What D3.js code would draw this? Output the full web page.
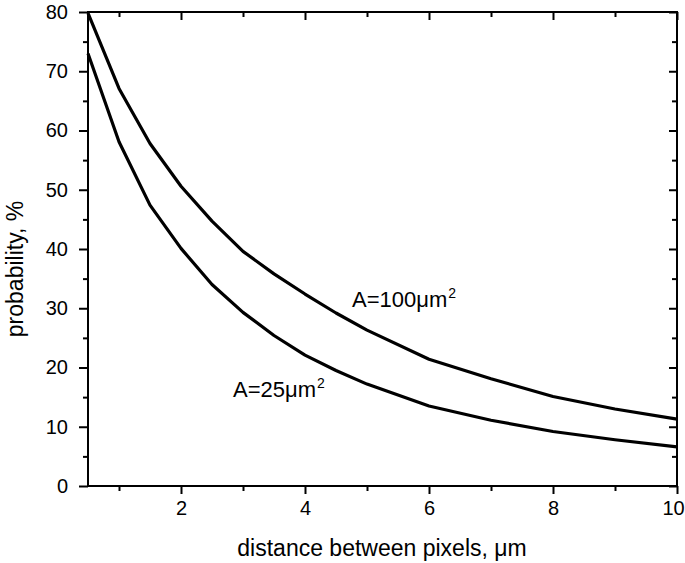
<!DOCTYPE html>
<html>
<head>
<meta charset="utf-8">
<script src="https://cdn.jsdelivr.net/npm/d3@7"></script>
<style>
  body { margin: 0; background: #fff; }
  text { font-family: "Liberation Sans", Arial, sans-serif; fill: #000; }
</style>
</head>
<body>
<div id="chart"></div>
<script>
// distance between pixels, um
var distance = [0.5, 1, 1.5, 2, 2.5, 3, 3.5, 4, 4.5, 5, 6, 7, 8, 9, 10];
// probability, % for A = 100 um^2
var probA100 = [79.8, 67.1, 57.8, 50.6, 44.7, 39.6, 35.8, 32.4, 29.2, 26.3, 21.4, 18.1, 15.1, 13.0, 11.3];
// probability, % for A = 25 um^2
var probA25 = [73.0, 58.1, 47.4, 40.1, 34.0, 29.3, 25.4, 22.1, 19.5, 17.2, 13.5, 11.1, 9.2, 7.8, 6.6];
var xTicks = [2, 4, 6, 8, 10];
var xMinor = [1, 3, 5, 7, 9];
var yTicks = [0, 10, 20, 30, 40, 50, 60, 70, 80];
var yMinor = [5, 15, 25, 35, 45, 55, 65, 75];

var W = 685, H = 563;
var margin = { left: 88, right: 8, top: 12, bottom: 77 };
var width = W - margin.left - margin.right;
var height = H - margin.top - margin.bottom;

var svg = d3.select("#chart").append("svg")
    .attr("width", W)
    .attr("height", H);

var g = svg.append("g")
    .attr("transform", "translate(" + margin.left + "," + margin.top + ")");

var x = d3.scaleLinear().domain([0.5, 10]).range([0, width]);
var y = d3.scaleLinear().domain([0, 80]).range([height, 0]);

function styleAxis(sel) {
  sel.select(".domain").remove();
  sel.selectAll(".tick line").attr("stroke", "#000").attr("stroke-width", 2);
  sel.selectAll("text").style("font-size", "20px");
}

// bottom axis (ticks outward)
var xAxis = g.append("g").attr("transform", "translate(0," + height + ")")
    .call(d3.axisBottom(x).tickValues(xTicks).tickSize(8).tickPadding(7).tickFormat(d3.format("d")));
styleAxis(xAxis);
xAxis.selectAll(".tick text").filter(function(d) { return d === 10; }).attr("dx", -4);
g.append("g").attr("transform", "translate(0," + height + ")")
    .call(d3.axisBottom(x).tickValues(xMinor).tickSize(5).tickFormat(""))
    .call(styleAxis);

// left axis (ticks outward)
var yAxis = g.append("g")
    .call(d3.axisLeft(y).tickValues(yTicks).tickSize(9).tickPadding(11).tickFormat(d3.format("d")));
styleAxis(yAxis);
g.append("g")
    .call(d3.axisLeft(y).tickValues(yMinor).tickSize(5).tickFormat(""))
    .call(styleAxis);

// top axis (ticks inward)
g.append("g")
    .call(d3.axisBottom(x).tickValues(xTicks).tickSize(8).tickFormat(""))
    .call(styleAxis);
g.append("g")
    .call(d3.axisBottom(x).tickValues(xMinor).tickSize(5).tickFormat(""))
    .call(styleAxis);

// right axis (ticks inward)
g.append("g").attr("transform", "translate(" + width + ",0)")
    .call(d3.axisLeft(y).tickValues(yTicks).tickSize(8).tickFormat(""))
    .call(styleAxis);
g.append("g").attr("transform", "translate(" + width + ",0)")
    .call(d3.axisLeft(y).tickValues(yMinor).tickSize(5).tickFormat(""))
    .call(styleAxis);

// frame
g.append("rect")
    .attr("x", 0).attr("y", 0)
    .attr("width", width).attr("height", height)
    .attr("fill", "none")
    .attr("stroke", "#000")
    .attr("stroke-width", 2);

var line = d3.line()
    .x(function(d) { return x(d[0]); })
    .y(function(d) { return y(d[1]); });

[probA100, probA25].forEach(function(arr) {
  g.append("path")
    .datum(d3.zip(distance, arr))
    .attr("d", line)
    .attr("fill", "none")
    .attr("stroke", "#000")
    .attr("stroke-width", 3.2)
    .attr("stroke-linejoin", "round");
});

// curve labels
function areaLabel(px, py, txt) {
  var t = g.append("text")
      .attr("x", px).attr("y", py)
      .style("font-size", "22px");
  t.append("tspan").text(txt);
  t.append("tspan").attr("dy", -9).attr("dx", 1).style("font-size", "14px").text("2");
}
areaLabel(352 - margin.left, 307 - margin.top, "A=100\u03bcm");
areaLabel(233 - margin.left, 397 - margin.top, "A=25\u03bcm");

// axis titles
svg.append("text")
    .attr("x", 382).attr("y", 556)
    .attr("text-anchor", "middle")
    .style("font-size", "23px")
    .text("distance between pixels, \u03bcm");

svg.append("text")
    .attr("transform", "translate(23,269) rotate(-90)")
    .attr("text-anchor", "middle")
    .style("font-size", "23px")
    .text("probability, %");
</script>
</body>
</html>
